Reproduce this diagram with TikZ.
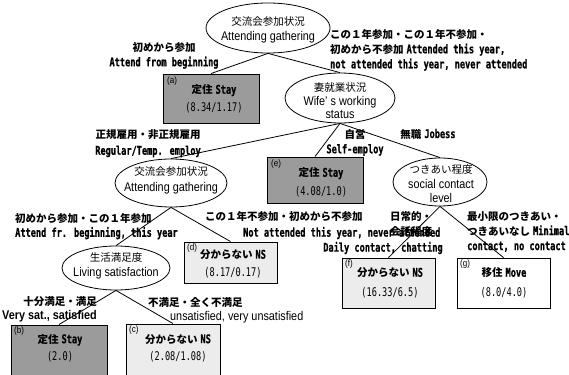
\documentclass[tikz,border=0pt]{standalone}
\usepackage{fontspec}
\setmainfont{Liberation Sans}
\newfontfamily\jpf{Noto Sans CJK JP}
\newfontfamily\monof[FakeStretch=0.72,Scale=1.14]{DejaVu Sans Mono}
\newfontfamily\monobf[FakeStretch=0.72,Scale=1.14,FakeBold=0.8]{DejaVu Sans Mono}
\newfontfamily\sansf[FakeStretch=0.86,Scale=1.2]{Liberation Sans}
\usetikzlibrary{shapes.geometric}
\definecolor{darkbox}{RGB}{155,155,155}
\definecolor{lightbox}{RGB}{236,236,236}
\newcommand{\jpb}[1]{{\jpf\bfseries #1}}
\newcommand{\jpr}[1]{{\jpf #1}}
\newcommand{\mob}[1]{{\monobf\bfseries #1}}
\newcommand{\mor}[1]{{\monof #1}}
\newcommand{\snr}[1]{{\sansf #1}}
\newcommand{\snb}[1]{{\sansf\bfseries #1}}
\tikzset{
  condshape/.style={ellipse, draw, line width=0.8pt, inner sep=0pt},
  condtext/.style={align=center, inner sep=0pt, font=\fontsize{10.5}{15}\selectfont},
  leafbox/.style={rectangle, draw, line width=0.9pt, inner sep=0pt},
  leaftext/.style={align=center, inner sep=0pt, font=\fontsize{10.5}{19}\selectfont},
  tag/.style={anchor=north west, inner sep=0pt, font=\fontsize{7.8}{9}\sansf},
  lbl/.style={inner sep=0pt, font=\fontsize{10.5}{15}\selectfont},
  edge/.style={line width=0.8pt},
}
\begin{document}
\begin{tikzpicture}[x=1pt,y=-1pt]
\useasboundingbox (0,0) rectangle (569,374);
% condition ellipses
\node[condshape, minimum width=124pt, minimum height=50pt] (root) at (268,28) {};
\node[condtext] (root-t) at (268,30) {\jpr{交流会参加状況}\\\snr{Attending gathering}};
\node[condshape, minimum width=110pt, minimum height=50pt] (wife) at (340,98) {};
\node[condtext, font=\fontsize{10.5}{13.5}\selectfont] (wife-t) at (340,101) {\jpr{妻就業状況}\\\snr{Wife’ s working}\\\snr{status}};
\node[condshape, minimum width=112pt, minimum height=48pt] (e2) at (171,183) {};
\node[condtext, font=\fontsize{10.5}{16}\selectfont] (e2-t) at (171,180) {\jpr{交流会参加状況}\\\snr{Attending gathering}};
\node[condshape, minimum width=108pt, minimum height=44pt] (ls) at (116,268) {};
\node[condtext] (ls-t) at (116,266) {\jpr{生活満足度}\\\snr{Living satisfaction}};
\node[condshape, minimum width=94pt, minimum height=48pt] (soc) at (440,182) {};
\node[condtext, font=\fontsize{10.5}{14.5}\selectfont] (soc-t) at (441,184) {\jpr{つきあい程度}\\\snr{social contact}\\\snr{level}};
% leaves
\node[leafbox, fill=darkbox, minimum width=96pt, minimum height=49pt] (a) at (211,98.5) {};
\node[leaftext, font=\fontsize{10.5}{18}\selectfont] (a-t) at (214,99) {\jpb{定住} \mob{Stay}\\\mor{(8.34/1.17)}};
\node[tag] (a-tag) at (167,77) {(a)};
\node[leafbox, fill=darkbox, minimum width=96pt, minimum height=46pt] (e) at (315,180) {};
\node[leaftext] (e-t) at (321,182.5) {\jpb{定住} \mob{Stay}\\\mor{(4.08/1.0)}};
\node[tag] (e-tag) at (271,160) {(e)};
\node[leafbox, fill=lightbox, minimum width=93pt, minimum height=41pt] (d) at (230.5,262.5) {};
\node[leaftext, font=\fontsize{10.5}{18}\selectfont] (d-t) at (233,264) {\jpb{分からない} \mob{NS}\\\mor{(8.17/0.17)}};
\node[tag] (d-tag) at (187,244) {(d)};
\node[leafbox, fill=lightbox, minimum width=93pt, minimum height=50pt] (f) at (388.5,283) {};
\node[leaftext, font=\fontsize{10.5}{20}\selectfont] (f-t) at (390,283) {\jpb{分からない} \mob{NS}\\\mor{(16.33/6.5)}};
\node[tag] (f-tag) at (345,260) {(f)};
\node[leafbox, fill=white, minimum width=93pt, minimum height=50pt] (g) at (503.5,283) {};
\node[leaftext, font=\fontsize{10.5}{20}\selectfont] (g-t) at (504,283) {\jpb{移住} \mob{Move}\\\mor{(8.0/4.0)}};
\node[tag] (g-tag) at (460,260) {(g)};
\node[leafbox, fill=darkbox, minimum width=96pt, minimum height=55pt] (b) at (59,352.5) {};
\node[leaftext, font=\fontsize{10.5}{17}\selectfont] (b-t) at (60,348) {\jpb{定住} \mob{Stay}\\\mor{(2.0)}};
\node[tag] (b-tag) at (14,327) {(b)};
\node[leafbox, fill=lightbox, minimum width=94pt, minimum height=56pt] (c) at (173,352) {};
\node[leaftext, font=\fontsize{10.5}{17}\selectfont] (c-t) at (178,348) {\jpb{分からない} \mob{NS}\\\mor{(2.08/1.08)}};
\node[tag] (c-tag) at (129,326) {(c)};
% connectors
\draw[edge] (root.south) -- (a.north);
\draw[edge] (root.south) -- (wife.north);
\draw[edge] (wife.south) -- (e2.north);
\draw[edge] (wife.south) -- (e.north);
\draw[edge] (wife.south) -- (soc.north);
\draw[edge] (e2.south) -- (ls.north);
\draw[edge] (e2.south) -- (d.north);
\draw[edge] (ls.south) -- (b.north);
\draw[edge] (ls.south) -- (c.north);
\draw[edge] (soc.south) -- (f.north);
\draw[edge] (soc.south) -- (g.north);
% branch labels
\node[lbl, align=center] (l-root-a) at (164,55.5) {\jpb{初めから参加}\\\mob{Attend from beginning}};
\node[lbl, align=left, anchor=west] (l-root-w) at (330,50) {\jpb{この１年参加・この１年不参加・}\\\jpb{初めから不参加} \mob{Attended this year,}\\\mob{not attended this year, never attended}};
\node[lbl, align=center, font=\fontsize{10.5}{16}\selectfont] (l-w-e2) at (148,143.5) {\jpb{正規雇用・非正規雇用}\\\mob{Regular/Temp. employ}};
\node[lbl, align=center] (l-w-e) at (355,142.5) {\jpb{自営}\\\mob{Self-employ}};
\node[lbl] (l-w-s) at (428,134) {\jpb{無職} \mob{Jobess}};
\node[lbl, align=left, anchor=west, font=\fontsize{10.5}{14}\selectfont] (l-e2-ls) at (15,226.5) {\jpb{初めから参加・この１年参加}\\\mob{Attend fr. beginning, this year}};
\node[lbl, anchor=west] (l-e2-d1) at (205,217) {\jpb{この１年不参加・初めから不参加}};
\node[lbl, anchor=west] (l-e2-d2) at (243,233) {\mob{Not attended this year, never attended}};
\node[lbl, align=center] (l-s-f1) at (411,224.5) {\jpb{日常的・}\\\jpb{会話程度}};
\node[lbl] (l-s-f2) at (383,248) {\mob{Daily contact, chatting}};
\node[lbl, align=left, anchor=west] (l-s-g) at (467,231.5) {\jpb{最小限のつきあい・}\\\jpb{つきあいなし} \mob{Minimal}\\\mob{contact, no contact}};
\node[lbl, align=right, anchor=east, font=\fontsize{10.5}{14}\selectfont] (l-ls-b) at (97,309) {\jpb{十分満足・満足}\\\snb{Very sat., satisfied}};
\node[lbl, anchor=west] (l-ls-c1) at (148,302) {\jpb{不満足・全く不満足}};
\node[lbl, anchor=west] (l-ls-c2) at (170,317) {\snr{unsatisfied, very unsatisfied}};
\end{tikzpicture}
\end{document}
